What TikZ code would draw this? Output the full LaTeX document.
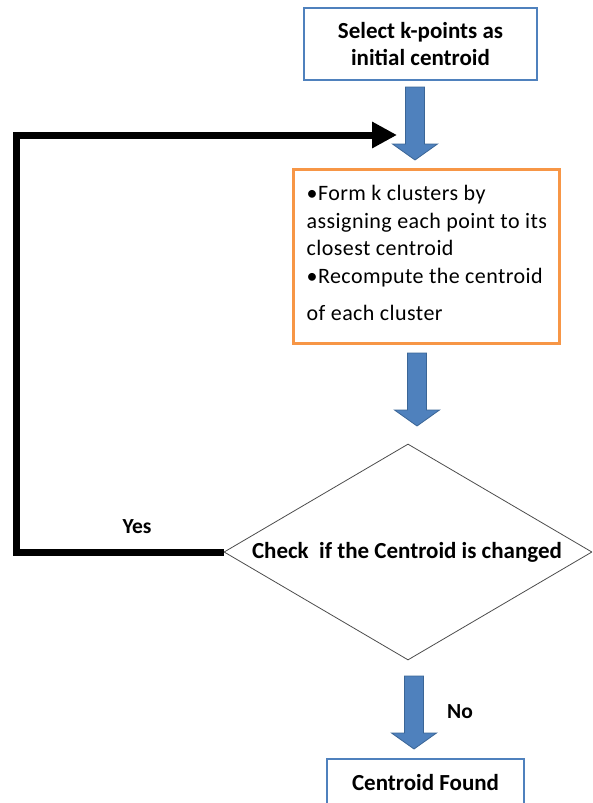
\documentclass[tikz,border=0pt]{standalone}
\usepackage{fontspec}
\setmainfont{Carlito}
\newfontfamily\bodyfont[LetterSpace=2]{Carlito}
\usetikzlibrary{shapes.geometric,arrows.meta,calc}
\definecolor{boxblue}{HTML}{4F81BD}
\definecolor{arrowfill}{HTML}{4F81BD}
\definecolor{arrowedge}{HTML}{3A6596}
\definecolor{boxorange}{HTML}{F79646}
\begin{document}
\begin{tikzpicture}[x=1pt,y=-1pt,
  bluebox/.style={draw=boxblue, line width=2pt, fill=white, align=center,
    inner sep=0pt, font=\fontsize{23}{27}\selectfont\bfseries},
  orangebox/.style={draw=boxorange, line width=3pt, fill=white, inner sep=0pt},
  bodytext/.style={align=left, inner sep=0pt,
    font=\bodyfont\fontsize{22}{27.5}\selectfont},
  decision/.style={diamond, draw=black!70, line width=0.8pt, aspect=1.7,
    inner sep=0pt, minimum width=368, minimum height=216},
  decisiontext/.style={inner sep=0pt, font=\fontsize{23}{27}\selectfont\bfseries},
  loopline/.style={line width=7pt, line join=miter,
    -{Triangle[length=25pt,width=25pt]}},
  lbl/.style={font=\fontsize{21.5}{24}\selectfont\bfseries, inner sep=0pt},
  blockarrow/.pic={
    \draw[fill=arrowfill, draw=arrowedge, line width=0.8pt, line join=miter]
      (-9.5,0) -- (9.5,0) -- (9.5,57) -- (22.5,57) -- (0,73)
      -- (-22.5,57) -- (-9.5,57) -- cycle;
  }
]
\useasboundingbox (0,0) rectangle (592,803);
\clip (0,0) rectangle (592,803);

% process steps
\node[bluebox, minimum width=233, minimum height=72] (sel) at (420.5,44)
  {Select k-points as\\initial centroid};

\node[orangebox, minimum width=266, minimum height=174] (form) at (426,256) {};
\node[bodytext, anchor=north west] (formtext) at ($(form.north west)+(15,18)$)
  {\textbullet Form k clusters by\\assigning each point to its\\closest centroid\\
   \textbullet Recompute the centroid\\[10pt]of each cluster};

\node[decision] (chk) at (408,552) {};
\node[decisiontext] (chktext) at (407,552) {Check\ \ if the Centroid is changed};

\node[bluebox, minimum width=197, minimum height=48] (found) at (425.5,783)
  {Centroid Found};

% block arrows between the steps
\pic at (415,87) {blockarrow};
\pic at (417,353) {blockarrow};
\pic at (414,676) {blockarrow};

% loop back when the centroid changed
\coordinate (loopend) at (397,135);
\draw[loopline] (chk.west) -- ++(-207.5,0) |- (loopend);

\node[lbl] (yes) at (137,527) {Yes};
\node[lbl] (no) at (460,712) {No};
\end{tikzpicture}
\end{document}
